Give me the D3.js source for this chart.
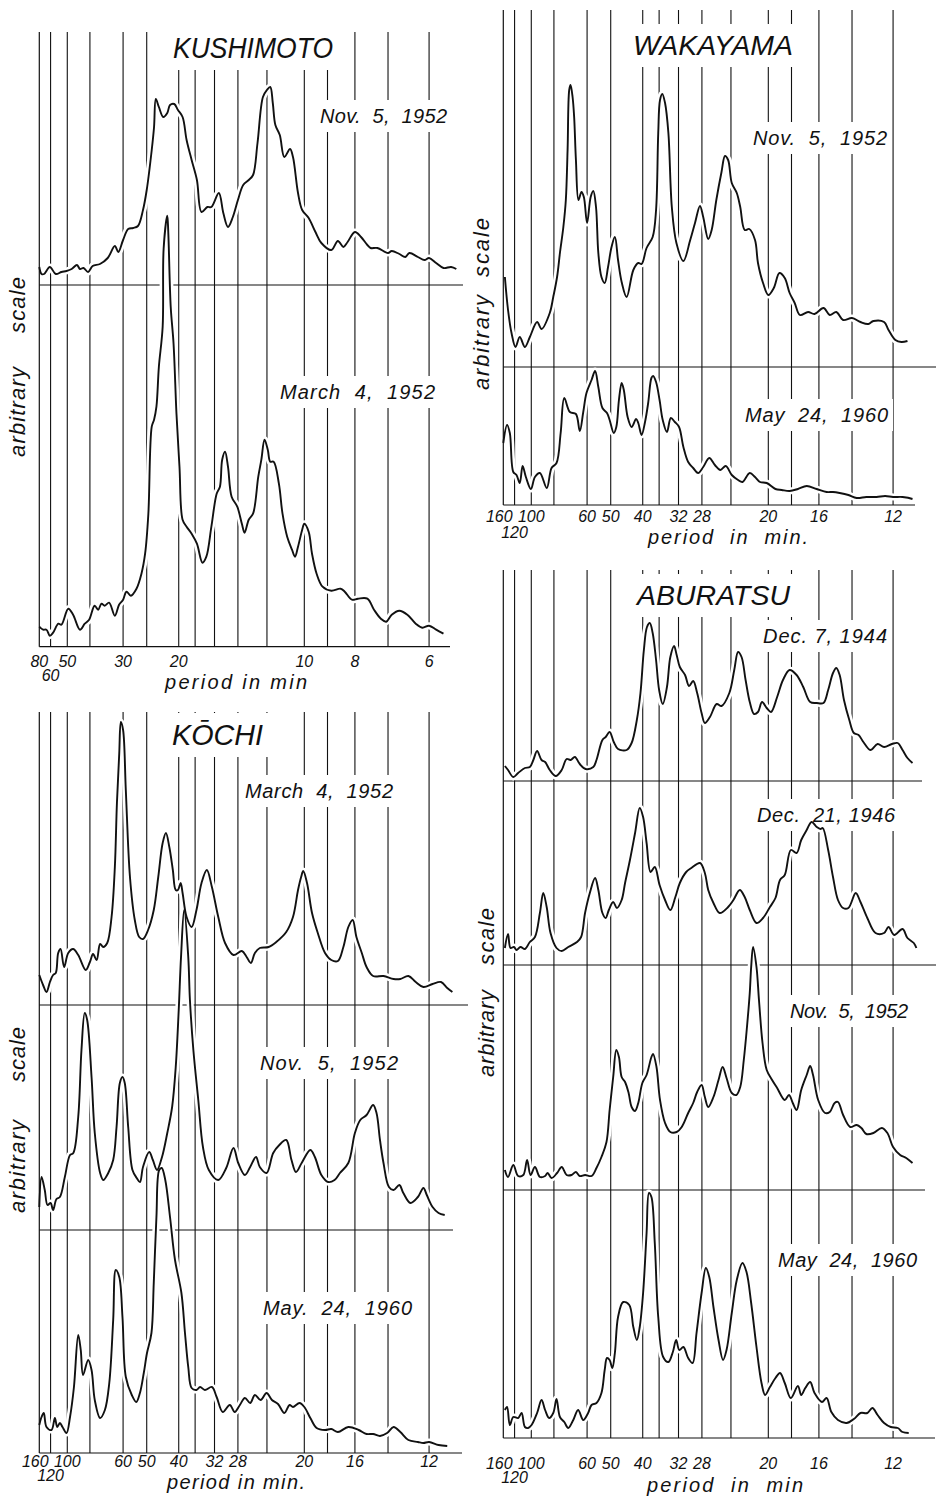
<!DOCTYPE html>
<html>
<head>
<meta charset="utf-8">
<script src="https://cdn.jsdelivr.net/npm/d3@7"></script>
<style>
  body { margin: 0; background: #fff; }
</style>
</head>
<body>
<div class="main"></div>
<script>
// Grid lines (periods in minutes) printed on the frequency template
const gridPeriods = [160, 120, 100, 80, 60, 50, 40, 36, 32, 28, 24, 20, 18, 16, 14, 12];
const tickPeriods = [160, 100, 60, 50, 40, 32, 28, 20, 16, 12];
const tickPeriodsLow = [120];
// Kushimoto uses the same template with half the periods
const kushimotoGrid = [80, 60, 50, 40, 30, 25, 20, 18, 16, 14, 12, 10, 9, 8, 7, 6];
const kushimotoTicks = [80, 50, 30, 20, 10, 8, 6];
const kushimotoTicksLow = [60];

// Spectra: [period (min), amplitude (arbitrary)]
const kushimotoNov52 = [[68.6,18],[66.7,11],[64.7,11],[60.5,18],[56.6,11],[53.2,13],[50.4,14],[47.8,16],[45.3,20],[44.0,16],[42.5,17],[40.7,13],[39.0,19],[36.5,21],[34.1,27],[32.1,39],[31.2,33],[30.0,45],[28.8,56],[27.7,57],[26.7,59],[25.7,75],[25.0,95],[24.1,135],[23.7,158],[23.4,186],[22.9,178],[22.2,168],[21.6,172],[21.2,180],[20.6,181],[20.1,175],[19.5,168],[19.0,145],[18.4,125],[17.8,105],[17.3,73],[16.7,78],[16.3,78],[15.6,92],[15.2,72],[14.8,58],[14.4,68],[14.0,85],[13.6,100],[13.2,105],[12.9,110],[12.6,142],[12.25,188],[12.0,195],[11.8,198],[11.65,182],[11.5,160],[11.25,150],[11.0,128],[10.7,136],[10.55,128],[10.3,92],[10.1,75],[9.8,67],[9.5,53],[9.25,42],[8.85,35],[8.6,44],[8.4,38],[8.25,43],[8.0,53],[7.8,48],[7.6,40],[7.5,37],[7.3,37],[7.0,32],[6.9,34],[6.7,31],[6.55,28],[6.45,32],[6.25,28],[6.1,25],[6.0,27],[5.85,22],[5.7,17],[5.55,18],[5.45,16]];
const kushimotoMar52 = [[68.6,20],[65.5,17],[62.9,17],[60.5,11],[58.3,14],[55.0,23],[53.2,22],[49.5,38],[47.1,32],[44.0,17],[42.0,23],[40.3,27],[38.3,41],[37.1,37],[36.0,43],[35.0,41],[33.7,44],[32.1,31],[31.0,42],[30.0,47],[29.2,55],[28.2,51],[27.0,58],[26.0,73],[25.3,93],[24.7,133],[24.1,220],[23.7,227],[23.3,240],[22.9,280],[22.3,320],[22.15,398],[21.6,431],[21.45,414],[21.1,340],[20.7,303],[20.3,233],[19.9,180],[19.5,127],[19.0,120],[18.4,113],[17.8,103],[17.2,84],[16.8,90],[16.3,120],[15.8,153],[15.5,160],[15.3,187],[15.05,195],[14.8,180],[14.5,150],[14.05,140],[13.7,123],[13.5,114],[13.2,127],[12.9,133],[12.55,170],[12.35,187],[12.15,207],[11.95,197],[11.8,185],[11.6,185],[11.3,163],[11.1,133],[10.85,110],[10.6,97],[10.45,90],[10.3,100],[10.1,117],[10.0,123],[9.8,115],[9.65,93],[9.45,73],[9.2,60],[8.85,56],[8.5,58],[8.35,55],[8.1,47],[7.9,48],[7.6,48],[7.4,37],[7.2,28],[7.05,25],[6.9,32],[6.7,36],[6.5,32],[6.3,23],[6.15,19],[6.0,21],[5.85,17],[5.7,13]];

const wakayamaNov52 = [[134.5,90],[129.5,57],[124.3,34],[118.7,20],[113.2,30],[107.0,20],[101.5,30],[94.2,45],[90.1,38],[83.2,54],[80.5,70],[77.7,90],[75.7,114],[73.4,140],[71.8,167],[70.7,217],[69.7,277],[68.9,282],[67.7,270],[66.8,250],[65.8,207],[64.4,167],[62.8,175],[61.6,170],[60.0,144],[58.3,170],[57.1,176],[55.9,160],[54.9,114],[53.6,90],[52.3,84],[51.0,100],[49.7,120],[48.5,130],[47.4,107],[46.2,85],[44.6,70],[42.6,97],[41.2,104],[40.3,103],[39.0,119],[37.5,130],[36.7,157],[36.2,234],[35.8,267],[35.3,273],[34.7,264],[34.0,234],[33.3,160],[32.4,124],[31.1,106],[29.9,127],[29.1,144],[28.3,161],[27.8,150],[27.05,128],[26.55,137],[25.9,167],[25.2,195],[24.75,211],[24.35,207],[23.9,184],[23.3,174],[22.9,160],[22.4,137],[21.9,138],[21.3,127],[21.0,104],[20.5,84],[20.0,72],[19.5,79],[19.0,94],[18.55,89],[18.15,74],[17.75,64],[17.35,52],[16.75,55],[16.3,53],[15.7,59],[15.3,52],[14.9,55],[14.5,47],[14.0,49],[13.55,45],[13.15,43],[12.9,46],[12.4,45],[12.2,37],[11.9,27],[11.65,25],[11.4,26]];
const wakayamaMay60 = [[137.1,62],[131.0,80],[126.8,72],[121.8,33],[117.4,30],[113.2,22],[109.7,39],[105.9,28],[100.4,16],[96.3,28],[91.6,32],[85.6,17],[81.8,37],[78.1,42],[75.2,72],[72.8,107],[69.3,93],[65.8,91],[63.7,74],[61.9,93],[60.3,112],[57.9,125],[56.3,134],[54.9,118],[53.2,97],[51.4,92],[50.4,85],[48.9,72],[48.0,78],[47.1,105],[46.2,122],[45.5,115],[44.3,88],[43.1,78],[41.8,86],[41.2,82],[40.3,70],[39.4,83],[38.6,102],[37.8,127],[37.4,129],[36.7,123],[35.9,105],[35.2,85],[34.3,73],[33.5,87],[32.7,83],[31.9,78],[31.1,58],[30.25,43],[29.4,37],[28.6,32],[27.8,38],[26.9,47],[26.1,40],[25.35,35],[24.65,39],[23.9,30],[23.15,25],[22.65,23],[21.85,32],[21.3,28],[20.8,23],[20.15,22],[19.35,16],[18.8,15],[18.15,14],[17.5,16],[16.85,19],[16.15,16],[15.5,13],[15.1,13],[14.7,12],[14.2,10],[13.75,7],[13.25,8],[12.75,8],[12.35,9],[12.0,8],[11.6,8],[11.2,6]];

const kochiMar52 = [[137.1,30],[131.0,20],[125.8,13],[120.9,23],[116.6,30],[113.2,32],[110.2,52],[107.4,56],[103.4,38],[99.0,52],[94.2,56],[89.5,50],[83.2,35],[80.0,43],[77.7,51],[75.2,45],[72.9,61],[70.9,58],[68.5,62],[66.0,88],[64.2,138],[63.1,202],[61.9,252],[61.1,283],[60.0,275],[58.7,215],[56.8,128],[54.7,85],[52.9,68],[51.4,66],[49.5,75],[47.5,95],[46.0,128],[44.6,162],[43.6,172],[42.6,158],[41.6,135],[40.8,115],[40.2,115],[39.5,122],[39.0,112],[38.0,88],[36.8,78],[35.7,95],[34.6,122],[33.5,135],[32.5,118],[31.3,88],[30.1,62],[28.7,50],[27.4,54],[26.7,48],[26.1,42],[25.55,52],[24.9,57],[23.8,58],[22.9,63],[21.8,73],[21.1,88],[20.6,115],[20.3,128],[20.1,134],[19.75,122],[19.3,92],[18.8,72],[18.2,52],[17.7,45],[17.2,44],[16.8,58],[16.45,78],[16.15,85],[15.9,68],[15.55,52],[15.25,38],[14.85,29],[14.25,29],[13.7,26],[13.35,26],[12.95,29],[12.6,23],[12.25,18],[11.85,21],[11.5,23],[11.25,17],[11.05,13]];
const kochiNov52 = [[137.1,23],[133.4,53],[128.4,40],[124.3,25],[120.0,27],[116.6,20],[112.3,31],[108.2,33],[102.6,53],[97.2,75],[94.0,77],[89.5,113],[86.7,180],[84.0,217],[82.1,210],[78.8,153],[76.5,97],[72.9,57],[70.9,50],[67.9,57],[65.1,70],[63.3,103],[61.6,147],[60.3,153],[59.2,147],[57.6,103],[55.7,60],[53.9,52],[52.6,48],[51.4,63],[49.1,78],[47.8,70],[46.4,60],[44.8,73],[43.2,97],[41.8,123],[40.8,163],[40.0,220],[39.4,273],[38.6,320],[37.6,273],[37.2,230],[36.4,180],[35.3,130],[34.3,83],[33.1,60],[31.3,50],[29.9,62],[28.7,82],[27.95,67],[26.95,55],[26.2,63],[25.4,73],[24.9,63],[24.05,57],[23.25,77],[22.55,85],[21.8,90],[21.25,70],[20.8,58],[20.25,67],[19.45,80],[19.05,73],[18.5,55],[17.95,48],[17.45,50],[17.05,57],[16.45,67],[16.0,97],[15.65,110],[15.25,115],[14.85,125],[14.65,117],[14.45,90],[14.25,67],[13.95,43],[13.7,40],[13.4,45],[13.2,37],[12.85,27],[12.5,33],[12.25,42],[12.1,35],[11.85,23],[11.6,17],[11.35,15]];
const kochiMay60 = [[137.1,28],[133.4,36],[129.9,40],[125.8,26],[118.7,23],[114.3,35],[111.4,26],[108.2,30],[105.2,26],[100.8,20],[97.2,36],[93.4,66],[89.5,118],[87.3,103],[85.4,78],[81.3,93],[78.8,83],[76.5,53],[72.9,35],[69.9,43],[67.3,70],[65.1,133],[63.7,183],[61.9,176],[60.3,136],[58.7,76],[56.0,58],[54.1,51],[52.6,60],[51.1,80],[49.9,100],[48.3,120],[47.5,170],[46.6,236],[45.7,283],[44.9,285],[43.8,273],[42.4,236],[41.0,193],[39.3,160],[38.4,120],[37.6,86],[36.8,65],[35.7,63],[34.9,66],[33.9,63],[32.5,66],[31.6,56],[30.5,41],[29.3,48],[28.5,41],[27.7,48],[26.95,55],[26.2,50],[25.55,58],[24.8,53],[24.05,60],[23.4,53],[22.7,49],[22.0,40],[21.45,48],[21.1,46],[20.45,50],[20.0,46],[19.45,35],[18.9,25],[18.2,23],[17.7,24],[17.2,21],[16.45,26],[15.75,23],[15.25,19],[14.85,19],[14.45,17],[14.05,20],[13.7,26],[13.35,21],[12.95,13],[12.5,11],[12.25,10],[12.0,11],[11.6,8],[11.25,7]];

const aburatsuDec44 = [[134.5,15],[129.5,11],[121.8,4],[115.3,8],[107.0,13],[101.5,14],[97.9,21],[94.2,30],[90.1,21],[87.0,19],[83.2,11],[78.6,5],[74.5,11],[71.3,22],[68.9,21],[66.4,24],[63.7,17],[60.7,12],[57.1,14],[55.7,21],[53.2,41],[51.9,44],[50.4,49],[48.9,39],[47.4,32],[44.6,31],[43.1,38],[41.6,61],[40.6,88],[39.7,131],[38.9,154],[38.2,158],[37.5,148],[36.7,121],[36.0,91],[35.2,77],[34.3,94],[33.6,124],[32.85,135],[32.35,126],[31.75,114],[30.8,106],[30.1,95],[29.4,100],[28.75,88],[28.05,68],[27.55,58],[26.8,64],[25.85,77],[25.2,75],[24.2,88],[23.6,111],[23.15,129],[22.75,124],[22.3,101],[21.85,79],[21.4,67],[21.0,69],[20.6,79],[20.15,73],[19.75,69],[19.2,84],[18.7,101],[18.15,111],[17.6,106],[17.1,94],[16.6,79],[16.15,78],[15.7,78],[15.4,91],[15.1,108],[14.9,113],[14.7,106],[14.45,81],[14.15,61],[13.9,48],[13.65,46],[13.4,39],[13.05,31],[12.7,37],[12.4,34],[12.05,37],[11.8,38],[11.6,31],[11.4,23],[11.2,18]];
const aburatsuDec46 = [[134.5,17],[129.5,31],[125.8,17],[120.9,18],[117.4,15],[112.3,18],[107.0,16],[101.5,23],[96.3,28],[91.6,52],[88.6,72],[85.7,58],[82.6,32],[78.1,17],[74.5,14],[70.3,18],[65.2,23],[63.0,28],[61.0,52],[58.7,72],[56.3,87],[54.9,75],[53.2,52],[51.9,47],[50.7,55],[49.1,63],[47.8,57],[46.2,65],[45.1,82],[43.6,105],[42.1,132],[40.8,157],[39.9,148],[39.0,122],[38.0,93],[37.0,98],[35.9,80],[34.7,65],[33.6,55],[32.6,68],[31.75,82],[30.6,93],[29.7,97],[28.3,102],[27.55,92],[27.05,75],[26.3,62],[25.45,52],[24.35,58],[23.7,65],[22.95,75],[22.4,68],[21.85,55],[21.15,42],[20.5,47],[19.85,58],[19.35,67],[18.95,85],[18.55,90],[18.05,115],[17.6,112],[17.25,125],[16.85,135],[16.5,143],[16.15,138],[15.9,136],[15.75,137],[15.4,115],[15.1,88],[14.8,65],[14.5,57],[14.2,57],[13.8,72],[13.55,63],[13.2,47],[12.8,32],[12.4,32],[12.2,38],[11.95,30],[11.6,36],[11.4,27],[11.15,22],[11.05,17]];
const aburatsuNov52 = [[134.5,20],[129.5,13],[121.8,25],[115.3,14],[108.9,15],[104.5,30],[100.8,15],[96.3,23],[91.6,13],[87.0,14],[84.9,17],[81.8,12],[77.7,17],[74.5,23],[71.3,15],[68.3,15],[65.8,18],[63.7,14],[61.0,15],[57.9,14],[55.7,22],[53.6,33],[51.6,48],[50.4,80],[49.1,113],[48.0,140],[47.1,133],[46.2,113],[45.1,108],[44.0,97],[43.1,83],[42.1,79],[41.2,87],[40.1,107],[39.0,115],[37.8,133],[37.4,136],[36.6,123],[35.8,90],[34.7,67],[33.6,58],[32.35,58],[31.4,63],[30.25,77],[29.4,87],[28.75,98],[28.05,105],[27.55,93],[27.05,83],[26.3,93],[25.6,110],[25.05,123],[24.55,112],[23.9,97],[23.35,95],[22.9,103],[22.5,130],[22.15,163],[21.85,197],[21.7,223],[21.5,243],[21.15,223],[20.9,190],[20.55,147],[20.15,120],[19.65,110],[19.2,102],[18.55,90],[18.2,95],[17.9,87],[17.6,80],[17.25,100],[16.85,115],[16.6,124],[16.4,115],[16.05,90],[15.6,77],[15.3,78],[15.0,87],[14.8,88],[14.5,75],[14.1,63],[13.75,65],[13.5,62],[13.25,56],[12.9,57],[12.5,62],[12.25,57],[12.0,43],[11.7,35],[11.45,32],[11.2,27]];
const aburatsuMay60 = [[134.5,28],[131.0,31],[126.8,13],[121.8,21],[115.3,20],[110.9,25],[107.0,11],[103.4,10],[99.7,13],[94.2,25],[90.1,38],[87.0,28],[83.7,20],[80.5,25],[78.1,39],[75.7,21],[72.8,16],[70.3,10],[67.3,18],[64.6,28],[61.9,18],[59.5,25],[57.9,33],[55.7,35],[53.6,45],[52.3,68],[51.4,80],[50.4,78],[49.4,70],[48.5,85],[47.4,121],[45.7,136],[43.8,133],[42.6,111],[41.6,98],[40.8,111],[39.9,145],[39.0,205],[38.4,245],[37.8,241],[37.0,195],[36.2,121],[35.1,81],[34.0,76],[33.1,86],[32.45,98],[31.85,88],[31.1,91],[30.25,80],[29.5,75],[28.85,105],[28.05,145],[27.4,170],[26.9,161],[26.3,131],[25.6,98],[25.0,78],[24.55,88],[23.9,125],[23.3,158],[22.65,175],[22.2,166],[21.7,135],[21.15,91],[20.65,55],[20.3,43],[19.85,51],[19.35,60],[18.95,65],[18.55,55],[18.05,40],[17.5,52],[17.25,43],[16.95,50],[16.6,56],[16.3,45],[15.8,36],[15.5,40],[15.2,26],[14.8,18],[14.3,15],[13.9,19],[13.55,25],[13.2,25],[12.95,30],[12.7,23],[12.4,15],[12.1,11],[11.8,10],[11.6,6],[11.35,5]];

// Layout
const width = 936;
const height = 1499;
const plotWidth = 428;
const ink = '#111';
const font = '"Liberation Sans", Arial, sans-serif';

const panels = [
  {
    title: 'KUSHIMOTO', titleBox: [173, 58, 160, 30],
    left: 39.3, top: 32, span: [68.55, 5.25],
    grid: kushimotoGrid, ticks: kushimotoTicks, ticksLow: kushimotoTicksLow, tickY: [667, 681],
    axisTitle: ['period in min', 165, 689, 142],
    arb: [25, 457, 90, 333, 56],
    series: [
      { label: 'Nov.  5,  1952', data: kushimotoNov52, base: 285, end: 463, at: [320, 123, 127] },
      { label: 'March  4,  1952', data: kushimotoMar52, base: 646.7, end: 450, at: [280, 399, 155] }
    ]
  },
  {
    title: 'WAKAYAMA', titleBox: [633, 55, 160, 28],
    left: 503.3, top: 10, span: [137.1, 10.5],
    grid: gridPeriods, ticks: tickPeriods, ticksLow: tickPeriodsLow, tickY: [522, 538],
    axisTitle: ['period  in  min.', 648, 544, 160],
    arb: [489, 390, 95, 277, 59],
    series: [
      { label: 'Nov.  5,  1952', data: wakayamaNov52, base: 367, end: 936, at: [753, 145, 134] },
      { label: 'May  24,  1960', data: wakayamaMay60, base: 505, end: 915, at: [745, 422, 143] }
    ]
  },
  {
    title: 'KŌCHI', titleBox: [172, 745, 91, 29],
    left: 39.3, top: 712, span: [137.1, 10.5],
    grid: gridPeriods, ticks: tickPeriods, ticksLow: tickPeriodsLow, tickY: [1467, 1481],
    axisTitle: ['period in min.', 167, 1489, 138],
    arb: [25, 1213, 93, 1082, 55],
    series: [
      { label: 'March  4,  1952', data: kochiMar52, base: 1005, end: 468, at: [245, 798, 148] },
      { label: 'Nov.  5,  1952', data: kochiNov52, base: 1230, end: 453, at: [260, 1070, 138] },
      { label: 'May.  24,  1960', data: kochiMay60, base: 1453, end: 462, at: [263, 1315, 149] }
    ]
  },
  {
    title: 'ABURATSU', titleBox: [637, 605, 153, 28],
    left: 503.3, top: 570, span: [137.1, 10.5],
    grid: gridPeriods, ticks: tickPeriods, ticksLow: tickPeriodsLow, tickY: [1469, 1483],
    axisTitle: ['period  in  min', 647, 1492, 156],
    arb: [494, 1077, 87, 965, 57],
    series: [
      { label: 'Dec. 7, 1944', data: aburatsuDec44, base: 781, end: 922, at: [763, 643, 124] },
      { label: 'Dec.  21, 1946', data: aburatsuDec46, base: 965, end: 936, at: [757, 822, 138] },
      { label: 'Nov.  5,  1952', data: aburatsuNov52, base: 1190, end: 925, at: [790, 1018, 118] },
      { label: 'May  24,  1960', data: aburatsuMay60, base: 1438, end: 935, at: [778, 1267, 139] }
    ]
  }
];

const svg = d3.select('.main')
  .append('svg')
  .attr('width', width)
  .attr('height', height)
  .style('font-family', font)
  .style('font-style', 'italic');

svg.append('rect').attr('width', width).attr('height', height).attr('fill', '#fff');

// layers: grid lines, white boxes behind texts, curve halos, frame, curves, texts
const gGrid = svg.append('g');
const gBoxes = svg.append('g');
const gHalo = svg.append('g');
const gFrame = svg.append('g');
const gCurves = svg.append('g');
const gText = svg.append('g');

// text with a white box behind it so grid lines break around it
function label(str, x, y, w, size, pad) {
  const t = gText.append('text')
    .attr('x', x).attr('y', y)
    .attr('font-size', size)
    .attr('fill', ink)
    .style('white-space', 'pre')
    .attr('textLength', w)
    .attr('lengthAdjust', 'spacing')
    .text(str);
  const b = t.node().getBBox();
  gBoxes.append('rect')
    .attr('x', b.x - pad[0]).attr('y', b.y - pad[1])
    .attr('width', b.width + 2 * pad[0]).attr('height', b.height + 2 * pad[1])
    .attr('fill', '#fff');
  return t;
}

panels.forEach(p => {
  const x = d3.scalePow().exponent(0.5)
    .domain([1 / p.span[0], 1 / p.span[1]])
    .range([p.left, p.left + plotWidth])
    .clamp(true);
  const bottom = p.series[p.series.length - 1].base;

  // vertical grid lines
  gGrid.selectAll(null)
    .data(p.grid.slice(1))
    .join('line')
    .attr('x1', d => x(1 / d)).attr('x2', d => x(1 / d))
    .attr('y1', p.top).attr('y2', bottom)
    .attr('stroke', ink).attr('stroke-width', 1.1);

  // left frame
  gFrame.append('line')
    .attr('x1', x(1 / p.grid[0])).attr('x2', x(1 / p.grid[0]))
    .attr('y1', p.top).attr('y2', bottom)
    .attr('stroke', ink).attr('stroke-width', 1.2);

  p.series.forEach(s => {
    const y = d3.scaleLinear().domain([0, 100]).range([s.base, s.base - 100]);
    const path = d3.line()
      .x(d => x(1 / d[0]))
      .y(d => y(d[1]))
      .curve(d3.curveCatmullRom.alpha(0.5));

    gGrid.append('line')
      .attr('x1', p.left).attr('x2', s.end)
      .attr('y1', y(0)).attr('y2', y(0))
      .attr('stroke', ink).attr('stroke-width', 1.2);

    gHalo.append('path')
      .datum(s.data)
      .attr('d', path)
      .attr('fill', 'none')
      .attr('stroke', '#fff')
      .attr('stroke-width', 7)
      .attr('stroke-linejoin', 'round');

    gCurves.append('path')
      .datum(s.data)
      .attr('d', path)
      .attr('fill', 'none')
      .attr('stroke', ink)
      .attr('stroke-width', 1.9)
      .attr('stroke-linejoin', 'round');

    label(s.label, s.at[0], s.at[1], s.at[2], 20, [5, 5]);
  });

  // station title
  const tb = p.titleBox;
  label(p.title, tb[0], tb[1], tb[2], tb[3], [8, 6]).attr('lengthAdjust', 'spacingAndGlyphs');

  // period ticks (the one on the frame sits a little to the left)
  gText.selectAll(null)
    .data(p.ticks)
    .join('text')
    .attr('x', d => x(1 / d))
    .attr('dx', (d, i) => i === 0 && d !== 80 ? -4 : 0)
    .attr('y', p.tickY[0])
    .attr('text-anchor', 'middle')
    .attr('font-size', 16)
    .attr('fill', ink)
    .text(d => d);
  gText.selectAll(null)
    .data(p.ticksLow)
    .join('text')
    .attr('x', d => x(1 / d))
    .attr('y', p.tickY[1])
    .attr('text-anchor', 'middle')
    .attr('font-size', 16)
    .attr('fill', ink)
    .text(d => d);

  // axis title
  const at = p.axisTitle;
  gText.append('text')
    .attr('x', at[1]).attr('y', at[2])
    .attr('font-size', 20)
    .attr('fill', ink)
    .style('white-space', 'pre')
    .attr('textLength', at[3])
    .attr('lengthAdjust', 'spacing')
    .text(at[0]);

  // rotated "arbitrary scale"
  const a = p.arb;
  [['arbitrary', a[1], a[2]], ['scale', a[3], a[4]]].forEach(([word, y0, len]) => {
    gText.append('text')
      .attr('transform', `translate(${a[0]},${y0}) rotate(-90)`)
      .attr('font-size', 22)
      .attr('fill', ink)
      .attr('textLength', len)
      .attr('lengthAdjust', 'spacing')
      .text(word);
  });
});
</script>
</body>
</html>
